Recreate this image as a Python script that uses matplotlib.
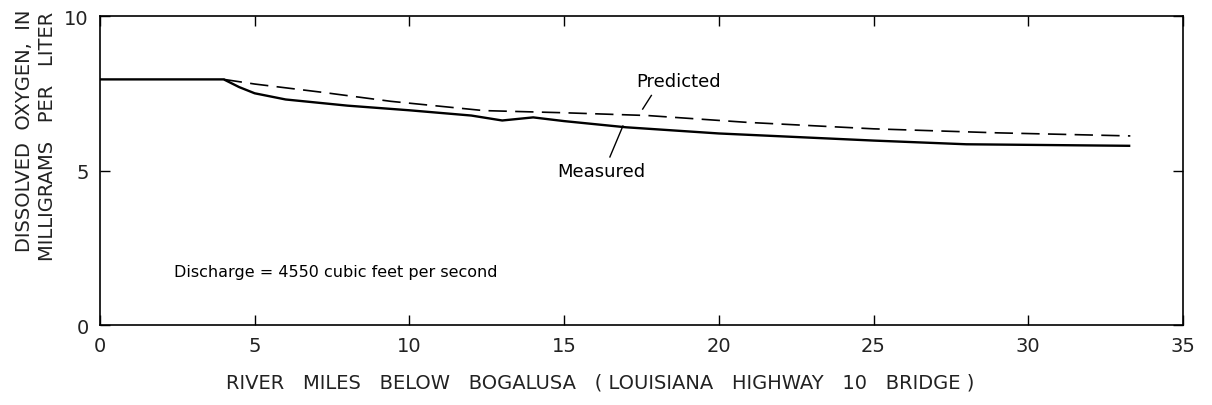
import matplotlib
matplotlib.use("Agg")
import matplotlib.pyplot as plt

# measured dissolved oxygen, mg/L, by river mile
measured_miles = [0, 4, 4.5, 5, 6, 7, 8, 10, 12, 13, 14, 15, 17, 20, 25, 28, 33.3]
measured_do = [7.95, 7.95, 7.7, 7.5, 7.3, 7.2, 7.1, 6.95, 6.78, 6.62, 6.72, 6.6, 6.4, 6.2, 5.97, 5.85, 5.8]

# predicted (model) curve
predicted_miles = [4, 5, 7.2, 9.4, 12.4, 15, 17.7, 20.9, 25, 29, 33.3]
predicted_do = [7.95, 7.8, 7.53, 7.24, 6.94, 6.87, 6.78, 6.56, 6.35, 6.22, 6.12]

x_ticks = [0, 5, 10, 15, 20, 25, 30, 35]
y_ticks = [0, 5, 10]

plt.rcParams["font.family"] = "DejaVu Sans"

fig = plt.figure(figsize=(12.12, 4.06), dpi=100)
ax = fig.add_axes([0.0825, 0.197, 0.8935, 0.761])

ax.plot(measured_miles, measured_do, color="black", lw=1.7, solid_capstyle="butt")
ax.plot(predicted_miles, predicted_do, color="black", lw=1.2, ls=(0, (11, 5)))

ax.set_xlim(0, 35)
ax.set_ylim(0, 10)
ax.set_xticks(x_ticks)
ax.set_yticks(y_ticks)
ax.tick_params(direction="in", length=7, width=1, top=True, right=True,
               labelsize=14, pad=8, labelcolor="#222222")
for s in ax.spines.values():
    s.set_linewidth(1.2)

# annotations
ax.text(18.7, 7.9, "Predicted", fontsize=13, ha="center", va="center")
ax.plot([17.82, 17.54], [7.43, 6.99], color="black", lw=1)
ax.text(16.2, 5.0, "Measured", fontsize=13, ha="center", va="center")
ax.plot([16.9, 16.48], [6.44, 5.44], color="black", lw=1)

ax.text(2.4, 1.72, "Discharge = 4550 cubic feet per second", fontsize=11.5,
        ha="left", va="center")

fig.text(600 / 1212, 1 - 383 / 406,
         "RIVER   MILES   BELOW   BOGALUSA   ( LOUISIANA   HIGHWAY   10   BRIDGE )",
         fontsize=14, ha="center", va="center", color="#222222")
fig.text(25 / 1212, 1 - 10 / 406, "DISSOLVED  OXYGEN,  IN", fontsize=14,
         rotation=90, rotation_mode="anchor", ha="right", va="center",
         color="#222222")
fig.text(48 / 1212, 1 - 12 / 406, "MILLIGRAMS   PER   LITER", fontsize=14,
         rotation=90, rotation_mode="anchor", ha="right", va="center",
         color="#222222")

fig.savefig("out.png", dpi=100)
